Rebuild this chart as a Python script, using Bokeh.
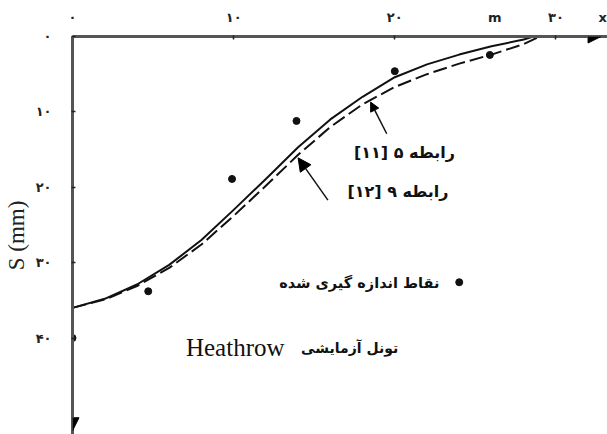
from bokeh.plotting import figure
from bokeh.models import Range1d, FixedTicker, Label, Arrow, NormalHead
from bokeh.embed import file_html
from bokeh.resources import INLINE

# ---- data ----
# top axis: numeric ticks plus the unit "m" and the axis name "x" written on the same row
x_ticks = [0, 10, 20, 30]
x_tick_labels = ["۰", "۱۰", "۲۰", "۳۰"]
x_unit_pos = [26.2, 32.9]
x_unit_labels = ["m", "x"]
y_ticks = [0, 10, 20, 30, 40]
y_tick_labels = ["۰", "۱۰", "۲۰", "۳۰", "۴۰"]

# relation 5 [11] (solid)
solid_x = [0, 2, 4, 6, 8, 10, 12, 14, 16, 18, 20, 22, 24, 26, 28, 28.6]
solid_s = [36.0, 34.8, 32.9, 30.3, 27.0, 23.0, 18.9, 14.7, 11.0, 8.0, 5.4, 3.7, 2.4, 1.3, 0.4, 0.0]

# relation 9 [12] (dashed)
dashed_x = [0, 2, 4, 6, 8, 10, 12, 14, 16, 18, 20, 22, 24, 26, 28, 29]
dashed_s = [36.0, 34.9, 33.1, 30.7, 27.6, 23.8, 19.8, 15.7, 12.0, 9.0, 6.7, 5.0, 3.6, 2.4, 1.0, 0.0]

# measured points
meas_x = [0.0, 4.7, 9.9, 13.9, 20.0, 25.9]
meas_s = [40.0, 33.8, 18.9, 11.2, 4.6, 2.45]

PERSIAN = "DejaVu Sans"
SERIF = "Liberation Serif"

p = figure(width=607, height=434,
           x_range=Range1d(0, 33.2), y_range=Range1d(52.8, 0),
           x_axis_location="above", y_axis_location="left",
           output_backend="svg", toolbar_location=None,
           min_border_left=72, min_border_top=36,
           min_border_right=0, min_border_bottom=0)

p.outline_line_color = None
p.grid.visible = False
p.background_fill_color = "white"

for ax in (p.xaxis[0], p.yaxis[0]):
    ax.axis_line_width = 3
    ax.axis_line_color = "#555555"
    ax.major_label_text_font = PERSIAN
    ax.major_label_text_font_size = "13px"
    ax.major_label_text_font_style = "bold"
    ax.major_label_text_color = "#222222"

# x axis: labels at numeric ticks and at the unit/name positions; tick marks only at numbers
xa = p.xaxis[0]
xa.ticker = FixedTicker(ticks=x_ticks + x_unit_pos, minor_ticks=x_ticks[1:])
xa.major_label_overrides = {t: l for t, l in zip(x_ticks + x_unit_pos,
                                                 x_tick_labels + x_unit_labels)}
xa.major_tick_line_color = None
xa.minor_tick_line_color = "#222222"
xa.minor_tick_line_width = 1.5
xa.minor_tick_in = 3
xa.minor_tick_out = 1
xa.major_label_standoff = 6

ya = p.yaxis[0]
ya.ticker = FixedTicker(ticks=y_ticks)
ya.major_label_overrides = {t: l for t, l in zip(y_ticks, y_tick_labels)}
ya.major_tick_line_color = "#222222"
ya.major_tick_line_width = 1.5
ya.major_tick_in = 3
ya.major_tick_out = 1
ya.minor_tick_line_color = None
ya.major_label_standoff = 20
ya.axis_label = "S (mm)"
ya.axis_label_text_font = SERIF
ya.axis_label_text_font_style = "normal"
ya.axis_label_text_font_size = "23px"
ya.axis_label_text_color = "#222222"
ya.axis_label_standoff = 4

# axis arrow heads
p.add_layout(Arrow(end=NormalHead(size=13, fill_color="black", line_color="black"),
                   x_start=31.8, y_start=0, x_end=32.8, y_end=0,
                   line_width=3, line_color="#555555"))
p.add_layout(Arrow(end=NormalHead(size=13, fill_color="black", line_color="black"),
                   x_start=0, y_start=50.0, x_end=0, y_end=52.3,
                   line_width=3, line_color="#555555"))

# curves
p.line(solid_x, solid_s, line_color="#111111", line_width=2, line_join="round")
p.line(dashed_x, dashed_s, line_color="#111111", line_width=2, line_dash="14 5",
       line_join="round")
p.scatter(meas_x, meas_s, size=7, color="#111111")

# pointer arrows
p.add_layout(Arrow(end=NormalHead(size=9, fill_color="black", line_color="black"),
                   x_start=19.5, y_start=12.9, x_end=18.5, y_end=8.7,
                   line_width=1.5, line_color="#111111"))
p.add_layout(Arrow(end=NormalHead(size=13, fill_color="black", line_color="black"),
                   x_start=15.85, y_start=21.7, x_end=14.0, y_end=16.1,
                   line_width=1.5, line_color="#111111"))

p.add_layout(Label(x=20.6, y=15.4, text="رابطه ۵ [۱۱]\u200f", text_font=PERSIAN,
                   text_font_size="16px", text_font_style="bold",
                   text_align="center", text_baseline="middle", text_color="#111111"))
p.add_layout(Label(x=20.2, y=20.6, text="رابطه ۹ [۱۲]\u200f", text_font=PERSIAN,
                   text_font_size="16px", text_font_style="bold",
                   text_align="center", text_baseline="middle", text_color="#111111"))

# legend marker + text
p.scatter([24.0], [32.6], size=7, color="#111111")
p.add_layout(Label(x=17.8, y=32.7, text="نقاط اندازه گیری شده", text_font=PERSIAN,
                   text_font_size="14.5px", text_font_style="bold",
                   text_align="center", text_baseline="middle", text_color="#111111"))

p.add_layout(Label(x=10.1, y=41.3, text="Heathrow", text_font=SERIF,
                   text_font_size="25px", text_align="center", text_baseline="middle",
                   text_color="#111111"))
p.add_layout(Label(x=17.2, y=41.3, text="تونل آزمایشی", text_font=PERSIAN,
                   text_font_size="14px", text_font_style="bold",
                   text_align="center", text_baseline="middle", text_color="#111111"))

open("out.html", "w").write(file_html(p, INLINE))
